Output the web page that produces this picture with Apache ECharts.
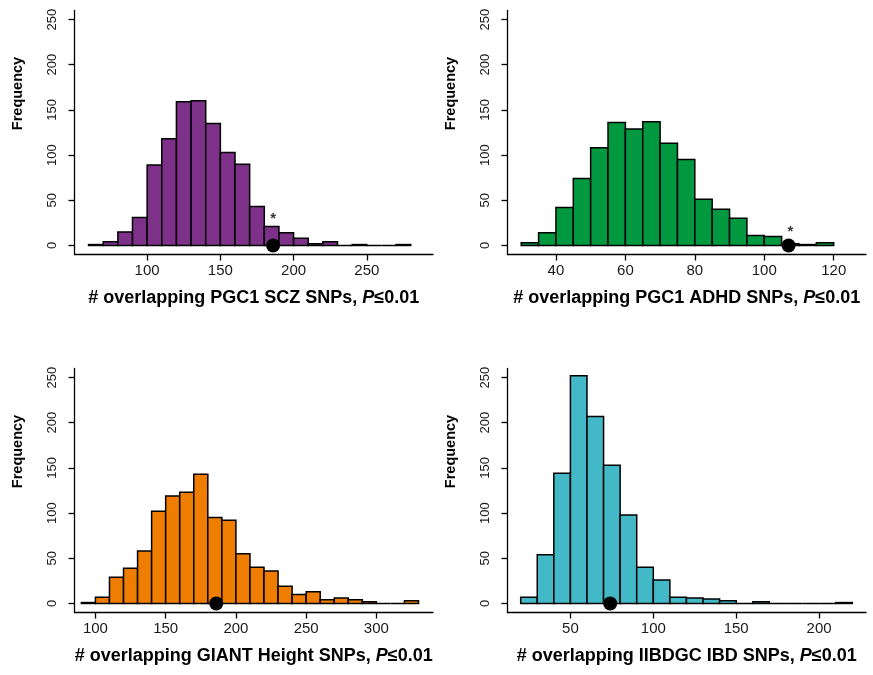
<!DOCTYPE html>
<html><head><meta charset="utf-8">
<script src="https://cdn.jsdelivr.net/npm/echarts@6/dist/echarts.min.js"></script>
<style>html,body{margin:0;padding:0;background:#fff}#c{width:873px;height:675px}</style>
</head><body><div id="c"></div>
<script>
// ---------- data ----------
const yTicks = [0, 50, 100, 150, 200, 250];

// Panel 1: PGC1 SCZ (bin width 10)
const sczBins = [60,70,80,90,100,110,120,130,140,150,160,170,180,190,200,210,220,230,240,250,260,270];
const sczCounts = [1,4,15,31,89,118,159,160,135,103,90,43,21,14,8,2,4,0,1,0,0,1];
const sczXTicks = [100, 150, 200, 250];
const sczObserved = [186, 0];
const sczStar = [186, 29];

// Panel 2: PGC1 ADHD (bin width 5)
const adhdBins = [30,35,40,45,50,55,60,65,70,75,80,85,90,95,100,105,110,115];
const adhdCounts = [3,14,42,74,108,136,129,137,113,95,51,40,30,11,10,2,1,3];
const adhdXTicks = [40, 60, 80, 100, 120];
const adhdObserved = [107, 0];
const adhdStar = [107.5, 15];

// Panel 3: GIANT Height (bin width 10)
const heightBins = [90,100,110,120,130,140,150,160,170,180,190,200,210,220,230,240,250,260,270,280,290,300,310,320];
const heightCounts = [1,7,29,39,58,102,119,123,143,95,92,55,40,36,19,10,13,4,6,4,2,0,0,3];
const heightXTicks = [100, 150, 200, 250, 300];
const heightObserved = [186, 0];

// Panel 4: IIBDGC IBD (bin width 10)
const ibdBins = [20,30,40,50,60,70,80,90,100,110,120,130,140,150,160,170,180,190,200,210];
const ibdCounts = [7,54,144,252,207,153,98,40,26,7,6,5,3,0,2,0,0,0,0,1];
const ibdXTicks = [50, 100, 150, 200];
const ibdObserved = [74, 0];

// ---------- styling / layout ----------
const FONT = '"Liberation Sans", Arial, Helvetica, sans-serif';
const grids = [
  {left: 74.5, top: 10.5, width: 358.5, height: 244},
  {left: 507.5, top: 10.5, width: 358.5, height: 244},
  {left: 74.5, top: 368.5, width: 358.5, height: 244},
  {left: 507.5, top: 368.5, width: 358.5, height: 244}
];
const xRanges = [[50.4, 295.2], [26.05, 129.3], [85.1, 340.3], [12.05, 228.3]];
const xTicksAll = [sczXTicks, adhdXTicks, heightXTicks, ibdXTicks];
const xNames = [
  '# overlapping PGC1 SCZ SNPs, {i|P}≤0.01',
  '# overlapping PGC1 ADHD SNPs, {i|P}≤0.01',
  '# overlapping GIANT Height SNPs, {i|P}≤0.01',
  '# overlapping IIBDGC IBD SNPs, {i|P}≤0.01'
];
const colors = ['#7D3189', '#00993F', '#EE7D00', '#43B8C6'];
const binWidths = [10, 5, 10, 10];
const binsAll = [sczBins, adhdBins, heightBins, ibdBins];
const countsAll = [sczCounts, adhdCounts, heightCounts, ibdCounts];
const observedAll = [sczObserved, adhdObserved, heightObserved, ibdObserved];
const starsAll = [sczStar, adhdStar, null, null];

const lineStyle = {color: '#000', width: 1.3};

const xAxes = grids.map((g, i) => ({
  type: 'value', gridIndex: i, min: xRanges[i][0], max: xRanges[i][1],
  axisLine: {show: true, onZero: false, lineStyle},
  axisTick: {show: true, inside: false, length: 6, customValues: xTicksAll[i], lineStyle},
  axisLabel: {customValues: xTicksAll[i], fontSize: 15, color: '#1a1a1a', margin: 9, fontFamily: FONT},
  splitLine: {show: false},
  name: xNames[i], nameLocation: 'middle', nameGap: 35,
  nameTextStyle: {fontSize: 18, fontWeight: 'bold', color: '#000', fontFamily: FONT,
    rich: {i: {fontSize: 18, fontWeight: 'bold', fontStyle: 'italic', color: '#000', fontFamily: FONT}}}
}));

const yAxes = grids.map((g, i) => ({
  type: 'value', gridIndex: i, min: -10, max: 260,
  axisLine: {show: true, onZero: false, lineStyle},
  axisTick: {show: true, inside: false, length: 6, customValues: yTicks, lineStyle},
  axisLabel: {customValues: yTicks, rotate: 90, fontSize: 13, color: '#1a1a1a', margin: 16, fontFamily: FONT},
  splitLine: {show: false},
  name: 'Frequency', nameLocation: 'middle', nameRotate: 90, nameGap: 49,
  nameTextStyle: {fontSize: 14.5, fontWeight: 'bold', color: '#000', fontFamily: FONT, padding: [0, 0, 0, 78]}
}));

const series = [];
grids.forEach((g, i) => {
  const w = binWidths[i];
  const color = colors[i];
  series.push({
    type: 'custom', xAxisIndex: i, yAxisIndex: i, clip: false, z: 2,
    data: binsAll[i].map((b, k) => [b, b + w, countsAll[i][k]]),
    encode: {x: [0, 1], y: 2},
    renderItem: function (params, api) {
      const p0 = api.coord([api.value(0), 0]);
      const p1 = api.coord([api.value(1), api.value(2)]);
      return {
        type: 'rect',
        shape: {x: p0[0], y: p1[1], width: p1[0] - p0[0], height: p0[1] - p1[1]},
        style: {fill: color, stroke: '#000', lineWidth: 1.5}
      };
    }
  });
  series.push({
    type: 'scatter', xAxisIndex: i, yAxisIndex: i, z: 5, silent: true,
    data: [observedAll[i]], symbol: 'circle', symbolSize: 14,
    itemStyle: {color: '#000', opacity: 1}
  });
  if (starsAll[i]) {
    series.push({
      type: 'scatter', xAxisIndex: i, yAxisIndex: i, z: 6, silent: true,
      data: [starsAll[i]], symbolSize: 0,
      label: {show: true, position: 'inside', formatter: '*', fontSize: 15, fontWeight: 'bold', color: '#000', fontFamily: FONT}
    });
  }
});

const chart = echarts.init(document.getElementById('c'), null, {renderer: 'canvas'});
chart.setOption({
  animation: false,
  backgroundColor: '#fff',
  grid: grids,
  xAxis: xAxes,
  yAxis: yAxes,
  series
});
</script>
</body></html>
